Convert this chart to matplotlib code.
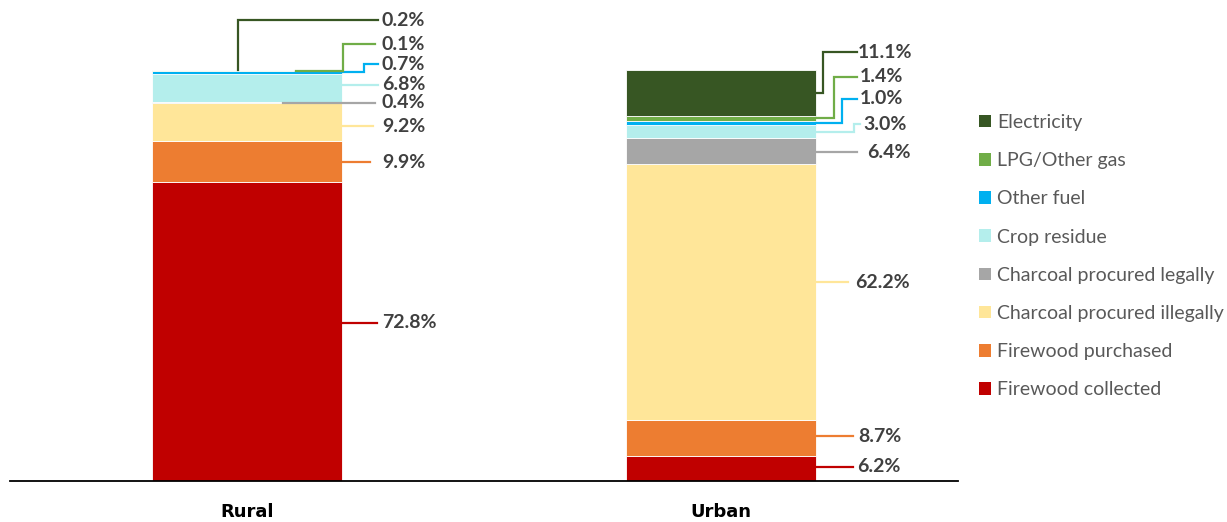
import matplotlib
matplotlib.use("Agg")
import matplotlib.pyplot as plt
from matplotlib.patches import Patch

# ---- data ----
categories = ["Rural", "Urban"]
series = ["Firewood collected", "Firewood purchased", "Charcoal procured illegally",
          "Charcoal procured legally", "Crop residue", "Other fuel", "LPG/Other gas", "Electricity"]
rural = [72.8, 9.9, 9.2, 0.4, 6.8, 0.7, 0.1, 0.2]
urban = [6.2, 8.7, 62.2, 6.4, 3.0, 1.0, 1.4, 11.1]
colors = ["#C00000", "#ED7D31", "#FFE699", "#A6A6A6", "#B4EEEC", "#00B0F0", "#70AD47", "#375623"]

# ---- layout (pixel-based label routing) ----
W, H = 1227, 522
fig = plt.figure(figsize=(W / 100, H / 100), dpi=100)
ax_left, ax_bottom, ax_w, ax_h = 10, 41, 948, 471
ax = fig.add_axes([ax_left / W, ax_bottom / H, ax_w / W, ax_h / H])
px_per_unit_x = 474.0
px_per_pct = 4.11
ax.set_xlim(-0.5, ax_w / px_per_unit_x - 0.5)
ax.set_ylim(0, ax_h / px_per_pct)


def px2x(px):
    return (px - ax_left) / px_per_unit_x - 0.5


def px2y(py):
    return (H - ax_bottom - py) / px_per_pct


# routing per segment: (x_start_px, x_elbow_px or None, x_end_px, label_y_px, text_x_px)
routes = {
    0: [(342, None, 377, 323, 382), (342, None, 370, 162, 382), (342, None, 373, 126, 382),
        (283, None, 375, 103, 382), (342, None, 378, 85, 382), (296, 364, 378, 64, 382),
        (296, 343, 375, 44, 382), (238, 238, 378, 20, 382)],
    1: [(816, None, 853, 467, 857), (816, None, 853, 436, 858), (816, None, 848, 282, 855),
        (816, None, 857, 152, 867), (783, 854, 860, 124, 863), (816, 842, 857, 99, 860),
        (816, 834, 857, 77, 860), (816, 823, 857, 52, 858)],
}

font = ["Lato", "DejaVu Sans"]
plt.rcParams["font.family"] = font

values = [rural, urban]
bar_w = 0.4
for ci, vals in enumerate(values):
    bottom = 0.0
    for si, v in enumerate(vals):
        ax.bar(ci, v, bottom=bottom, width=bar_w, color=colors[si],
               edgecolor="white", linewidth=0.6, zorder=2)
        mid = bottom + v / 2
        xs, xe, xend, ly, tx = routes[ci][si]
        y_lab = px2y(ly)
        if xe is None:
            xsq = [px2x(xs), px2x(xend)]
            ysq = [y_lab, y_lab]
        else:
            y0 = bottom + v if (ci == 0 and si == len(vals) - 1) else mid
            xsq = [px2x(xs), px2x(xe), px2x(xe), px2x(xend)]
            ysq = [y0, y0, y_lab, y_lab]
        ax.plot(xsq, ysq, color=colors[si], lw=1.6, solid_joinstyle="miter", zorder=3,
                clip_on=False)
        ax.text(px2x(tx), y_lab, f"{v:.1f}%", ha="left", va="center",
                fontsize=14, fontweight="bold", color="#404040", family=font)
        bottom += v

for s in ["top", "right", "left"]:
    ax.spines[s].set_visible(False)
ax.spines["bottom"].set_linewidth(1.3)
ax.set_yticks([])
ax.set_xticks(range(len(categories)))
ax.set_xticklabels(categories, fontsize=13, fontweight="bold", color="black")
ax.tick_params(axis="x", length=0, pad=16)

handles = [Patch(facecolor=colors[i], edgecolor="none", label=series[i])
           for i in range(len(series) - 1, -1, -1)]
fig.legend(handles=handles, loc="upper left", bbox_to_anchor=(979 / W, 1 - 114 / H),
           frameon=False, fontsize=14, labelcolor="#595959", handlelength=0.62,
           handleheight=0.62, handletextpad=0.31, labelspacing=1.09, borderaxespad=0,
           borderpad=0)

fig.savefig("out.png", dpi=100)
